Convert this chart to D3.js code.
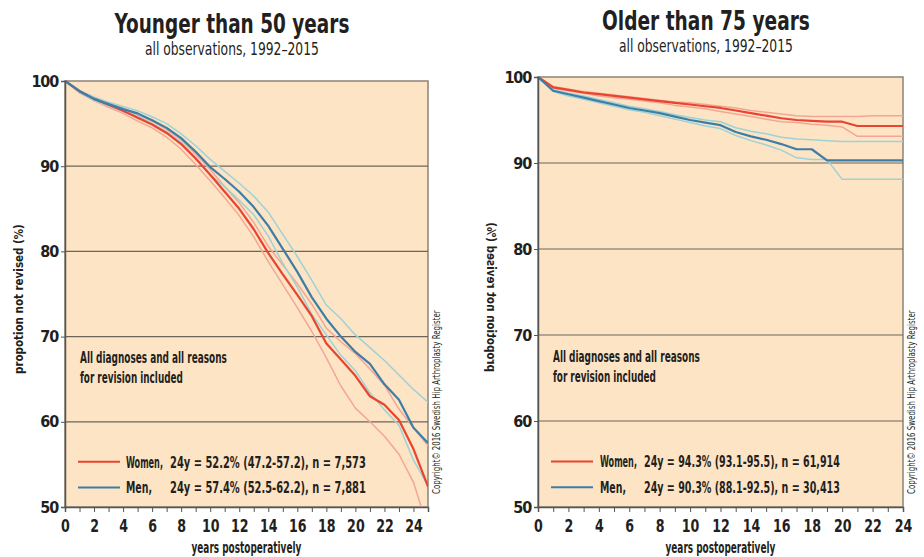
<!DOCTYPE html>
<html>
<head>
<meta charset="utf-8">
<script src="https://cdn.jsdelivr.net/npm/d3@7"></script>
<style>
  body { margin: 0; background: #fff; }
  svg text { font-family: "Liberation Sans Narrow", "DejaVu Sans Condensed", "Roboto Condensed", sans-serif; font-stretch: condensed; fill: #231f20; }
</style>
</head>
<body>
<svg id="chart" width="924" height="557"></svg>
<script>
// years postoperatively
const yearsYoung = [0,1,2,3,4,5,6,7,8,9,10,11,12,13,14,15,16,17,18,19,20,21,22,23,24,25]
const yearsOld = [0,1,2,3,4,5,6,7,8,9,10,11,12,13,14,15,16,17,18,19,20,21,22,23,24]

// Younger than 50 years
const youngWomen = [100,98.8,97.9,97.2,96.5,95.7,94.9,93.9,92.6,90.9,89.0,87.0,85.0,82.6,79.8,77.3,74.9,72.4,69.2,67.3,65.4,63.0,62.0,60.2,56.8,52.4]
const youngWomenHi = [100,98.9,98.1,97.4,96.8,96.0,95.3,94.3,93.1,91.4,89.6,87.6,85.7,83.4,80.6,78.4,76.2,73.8,71.0,69.4,68.0,66.2,64.3,61.5,59.3,57.2]
const youngWomenLo = [100,98.6,97.7,96.9,96.2,95.3,94.5,93.4,92.0,90.2,88.3,86.3,84.2,81.7,78.8,76.1,73.4,70.6,67.5,64.2,61.6,60.0,58.3,56.2,52.9,47.5]
const youngMen = [100,98.8,97.9,97.3,96.7,96.2,95.4,94.5,93.3,91.7,89.9,88.5,87.0,85.2,83.0,80.3,77.6,74.6,72.1,70.0,68.2,66.8,64.4,62.6,59.3,57.5]
const youngMenHi = [100,98.9,98.1,97.5,97.0,96.5,95.8,95.0,93.8,92.4,90.8,89.4,88.0,86.5,84.6,82.0,79.4,76.6,73.7,72.1,70.2,68.7,67.2,65.5,63.8,62.3]
const youngMenLo = [100,98.7,97.7,97.1,96.4,95.9,95.0,94.0,92.8,91.0,89.0,87.6,86.0,84.3,81.8,78.6,75.8,72.6,70.2,67.8,66.0,63.4,61.4,59.6,55.5,52.5]

// Older than 75 years
const oldWomen = [100,98.8,98.5,98.2,98.0,97.8,97.6,97.4,97.2,97.0,96.8,96.6,96.4,96.1,95.8,95.5,95.2,95.0,94.9,94.8,94.8,94.3,94.3,94.3,94.3]
const oldWomenHi = [100,98.9,98.6,98.3,98.1,97.9,97.7,97.5,97.3,97.1,97.0,96.8,96.6,96.4,96.1,95.9,95.7,95.5,95.4,95.4,95.4,95.4,95.5,95.5,95.5]
const oldWomenLo = [100,98.7,98.4,98.1,97.8,97.6,97.4,97.2,97.0,96.7,96.5,96.3,96.0,95.7,95.4,95.1,94.8,94.7,94.5,94.4,94.2,93.1,93.1,93.1,93.1]
const oldMen = [100,98.4,98.0,97.6,97.2,96.8,96.4,96.1,95.8,95.4,95.0,94.7,94.4,93.6,93.1,92.7,92.2,91.6,91.6,90.3,90.3,90.3,90.3,90.3,90.3]
const oldMenHi = [100,98.5,98.1,97.8,97.4,97.0,96.6,96.3,96.0,95.6,95.3,95.0,94.8,94.1,93.7,93.4,93.0,92.8,92.7,92.6,92.5,92.5,92.5,92.5,92.5]
const oldMenLo = [100,98.3,97.8,97.4,97.0,96.6,96.2,95.9,95.5,95.1,94.7,94.3,94.0,93.2,92.6,92.1,91.5,90.6,90.4,90.4,88.1,88.1,88.1,88.1,88.1]

const yTicks = [50,60,70,80,90,100]
const xTickLabels = [0,2,4,6,8,10,12,14,16,18,20,22,24]

const colors = {
  women: "#e8442f",
  womenCI: "#f4a696",
  men: "#3c7ea8",
  menCI: "#9dd2d6",
}

const svg = d3.select("#chart")

// the original uses a condensed face, so squeeze each text to the width it had
function squeezed(parent, txt, x, y, width, size, opts = {}) {
  const t = parent.append("text")
    .attr("font-size", size)
    .attr("font-weight", opts.bold ? "bold" : "normal")
    .attr("fill", opts.fill || "#231f20")
    .text(txt)
  const len = t.node().getComputedTextLength()
  const k = width / len
  const rot = opts.rotate ? ` rotate(${opts.rotate})` : ""
  const flip = opts.flip ? " scale(1,-1)" : ""
  const anchorShift = opts.center ? -len / 2 : 0
  t.attr("x", anchorShift)
    .attr("transform", `translate(${x},${y})${rot}${flip} scale(${k},1)`)
  if (opts.dy) t.attr("dy", opts.dy)
  return t
}

function drawPanel(p) {
  const x = d3.scaleLinear().domain([0, p.xMax]).range([p.left, p.right])
  const y = d3.scaleLinear().domain([50, 100]).range([p.bottom, p.top])

  const g = svg.append("g")

  // background
  g.append("rect")
    .attr("x", p.left).attr("y", p.top)
    .attr("width", p.right - p.left).attr("height", p.bottom - p.top)
    .attr("fill", "#fde4c4")
    .attr("stroke", "#8c8376").attr("stroke-width", 1.5)

  // gridlines
  g.selectAll(".grid")
    .data(yTicks.filter(d => d > 50 && d < 100))
    .enter().append("line")
    .attr("x1", p.left).attr("x2", p.right)
    .attr("y1", d => y(d)).attr("y2", d => y(d))
    .attr("stroke", "#6e655a").attr("stroke-width", 1.2)

  // titles
  squeezed(g, p.title, p.titleX, p.titleY, p.titleW, 27, { bold: true, center: true })
  squeezed(g, "all observations, 1992\u20132015", p.titleX, p.titleY + 22, 174, 17, { center: true })

  // lines
  const line = d3.line()
    .x((d, i) => x(p.years[i]))
    .y(d => y(d))

  const clipId = "clip" + p.id
  g.append("clipPath").attr("id", clipId)
    .append("rect")
    .attr("x", p.left).attr("y", p.top - 2)
    .attr("width", p.right - p.left).attr("height", p.bottom - p.top + 2)

  const series = [
    { v: p.womenHi, c: colors.womenCI, w: 1.5 },
    { v: p.womenLo, c: colors.womenCI, w: 1.5 },
    { v: p.menHi, c: colors.menCI, w: 1.5 },
    { v: p.menLo, c: colors.menCI, w: 1.5 },
    { v: p.women, c: colors.women, w: 2.2 },
    { v: p.men, c: colors.men, w: 2.2 },
  ]
  g.append("g").attr("clip-path", `url(#${clipId})`)
    .selectAll("path")
    .data(series)
    .enter().append("path")
    .attr("d", d => line(d.v))
    .attr("fill", "none")
    .attr("stroke", d => d.c)
    .attr("stroke-width", d => d.w)
    .attr("stroke-linejoin", "round")

  // axes
  const xAxis = d3.axisBottom(x)
    .tickValues(d3.range(0, p.xMax + 1))
    .tickSize(5)
    .tickFormat(d => (xTickLabels.includes(d) ? d : ""))
  const xg = g.append("g")
    .attr("transform", `translate(0,${p.bottom})`)
    .call(xAxis)
  xg.select(".domain").attr("stroke", "#555").attr("stroke-width", 1.5)
  xg.selectAll(".tick line").attr("stroke", "#555")
  xg.selectAll(".tick text")
    .attr("font-size", 18).attr("font-weight", "bold")
    .attr("dy", "0.9em").attr("y", 9)
    .attr("transform", "scale(0.78,1)")
    .attr("fill", "#231f20")

  const yAxis = d3.axisLeft(y).tickValues(yTicks).tickSize(4)
  const yg = g.append("g")
    .attr("transform", `translate(${p.left},0)`)
    .call(yAxis)
  yg.select(".domain").attr("stroke", "#555").attr("stroke-width", 1.5)
  yg.selectAll(".tick line").attr("stroke", "#555")
  yg.selectAll(".tick text")
    .attr("font-size", 16).attr("font-weight", "bold")
    .attr("x", -7)
    .attr("fill", "#231f20")
    .attr("letter-spacing", -1.2)

  // axis titles
  squeezed(g, "years postoperatively", (p.left + p.right) / 2, p.bottom + 46, 110, 15, { bold: true, center: true })

  squeezed(g, "propotion not revised (%)", p.left - 42, (p.top + p.bottom) / 2 + 5, 150, 13,
    { bold: true, center: true, rotate: -90, flip: p.mirror, dy: p.mirror ? "0.7em" : null })

  // copyright
  squeezed(g, "Copyright\u00a9 2016 Swedish Hip Arthroplasty Register", p.right + 12, p.bottom - 105, 184, 10,
    { center: true, rotate: -90, fill: "#555" })

  // note
  const nx = p.left + 15
  squeezed(g, "All diagnoses and all reasons", nx, y(67.5) + 5, 147, 15, { bold: true })
  squeezed(g, "for revision included", nx, y(67.5) + 25, 103, 15, { bold: true })

  // legend
  const legend = [
    { c: colors.women, name: "Women,", nameW: 37, rest: p.womenLabel, yv: 55.3 },
    { c: colors.men, name: "Men,", nameW: 26, rest: p.menLabel, yv: 52.3 },
  ]
  const lg = g.selectAll(".legend").data(legend).enter().append("g")
  lg.append("line")
    .attr("x1", p.left + 13).attr("x2", p.left + 55)
    .attr("y1", d => y(d.yv)).attr("y2", d => y(d.yv))
    .attr("stroke", d => d.c).attr("stroke-width", 2)
  legend.forEach(d => {
    squeezed(g, d.name, p.legendX, y(d.yv) + 6, d.nameW, 16, { bold: true })
    squeezed(g, d.rest, p.legendX + 44, y(d.yv) + 6, 196, 16, { bold: true })
  })
}

drawPanel({
  id: "young",
  title: "Younger than 50 years", titleW: 235,
  titleX: 232, titleY: 33,
  left: 65, right: 428, top: 81, bottom: 507,
  xMax: 25, years: yearsYoung,
  women: youngWomen, womenHi: youngWomenHi, womenLo: youngWomenLo,
  men: youngMen, menHi: youngMenHi, menLo: youngMenLo,
  womenLabel: "24y = 52.2% (47.2-57.2), n = 7,573",
  menLabel: "24y = 57.4% (52.5-62.2), n = 7,881",
  legendX: 126,
  mirror: false,
})

drawPanel({
  id: "old",
  title: "Older than 75 years", titleW: 208,
  titleX: 706, titleY: 30,
  left: 538, right: 903, top: 77, bottom: 507,
  xMax: 24, years: yearsOld,
  women: oldWomen, womenHi: oldWomenHi, womenLo: oldWomenLo,
  men: oldMen, menHi: oldMenHi, menLo: oldMenLo,
  womenLabel: "24y = 94.3% (93.1-95.5), n = 61,914",
  menLabel: "24y = 90.3% (88.1-92.5), n = 30,413",
  legendX: 600,
  mirror: true,
})
</script>
</body>
</html>
